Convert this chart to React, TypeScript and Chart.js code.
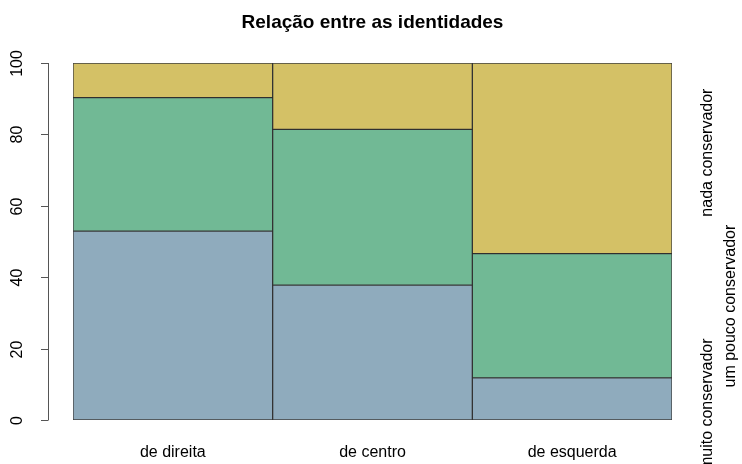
import React, { useEffect, useRef } from "react";
import { Chart, registerables } from "chart.js";

Chart.register(...registerables);

const categories = ["de direita", "de centro", "de esquerda"];
const muitoConservador = [52.9, 37.8, 11.8];
const umPoucoConservador = [37.4, 43.6, 34.8];
const nadaConservador = [9.7, 18.6, 53.4];
const seriesNames = ["muito conservador", "um pouco conservador", "nada conservador"];
const seriesColors = ["#8FABBD", "#71B995", "#D4C166"];
const rightLabelAt = [4.4, 31.9, 74.9];
const yTicks = [0, 20, 40, 60, 80, 100];
const title = "Relação entre as identidades";

const FONT = "'Liberation Sans', Arial, Helvetica, sans-serif";

const decorPlugin = {
  id: "decor",
  afterDraw(chart: any) {
    const ctx = chart.ctx;
    const area = chart.chartArea;
    const y = chart.scales.y;
    const x = chart.scales.x;
    ctx.save();
    // title
    ctx.fillStyle = "#000";
    ctx.font = `bold 19px ${FONT}`;
    ctx.textAlign = "center";
    ctx.textBaseline = "middle";
    ctx.fillText(title, (area.left + area.right) / 2, 23);

    // y axis
    const axX = area.left - 25;
    ctx.strokeStyle = "#555";
    ctx.lineWidth = 1;
    ctx.beginPath();
    ctx.moveTo(axX + 0.5, y.getPixelForValue(0));
    ctx.lineTo(axX + 0.5, y.getPixelForValue(100));
    ctx.stroke();
    ctx.font = `16px ${FONT}`;
    for (const t of yTicks) {
      const py = Math.round(y.getPixelForValue(t)) + 0.5;
      ctx.beginPath();
      ctx.moveTo(axX - 7, py);
      ctx.lineTo(axX + 0.5, py);
      ctx.stroke();
      ctx.save();
      ctx.translate(axX - 30, py);
      ctx.rotate(-Math.PI / 2);
      ctx.textAlign = "center";
      ctx.textBaseline = "middle";
      ctx.fillStyle = "#000";
      ctx.fillText(String(t), 0, 0);
      ctx.restore();
    }

    // x labels
    ctx.fillStyle = "#000";
    ctx.textAlign = "center";
    ctx.textBaseline = "middle";
    categories.forEach((c, i) => {
      ctx.fillText(c, x.getPixelForValue(i), 453);
    });

    // right labels
    seriesNames.forEach((name, i) => {
      const py = y.getPixelForValue(rightLabelAt[i]);
      const px = i === 1 ? area.right + 59 : area.right + 36;
      ctx.save();
      ctx.translate(px, py);
      ctx.rotate(-Math.PI / 2);
      ctx.textAlign = "center";
      ctx.textBaseline = "middle";
      ctx.fillText(name, 0, 0);
      ctx.restore();
    });
    ctx.restore();
  },
};

export default function App() {
  const ref = useRef<HTMLCanvasElement>(null);
  useEffect(() => {
    document.body.style.margin = "0";
    const chart = new Chart(ref.current!, {
      type: "bar",
      data: {
        labels: categories,
        datasets: [muitoConservador, umPoucoConservador, nadaConservador].map((d, i) => ({
          label: seriesNames[i],
          data: d,
          backgroundColor: seriesColors[i],
          borderColor: "rgba(30,30,30,0.85)",
          borderWidth: 1,
          borderSkipped: false,
          categoryPercentage: 1,
          barPercentage: 1,
        })),
      },
      options: {
        responsive: false,
        animation: false,
        maintainAspectRatio: false,
        layout: { padding: { left: 73, right: 70, top: 63, bottom: 44 } },
        plugins: { legend: { display: false }, title: { display: false }, tooltip: { enabled: false } },
        scales: {
          x: { stacked: true, display: false },
          y: { stacked: true, display: false, min: 0, max: 100 },
        },
      },
      plugins: [decorPlugin],
    });
    return () => chart.destroy();
  }, []);
  return <canvas ref={ref} width={742} height={464} style={{ display: "block" }} />;
}
